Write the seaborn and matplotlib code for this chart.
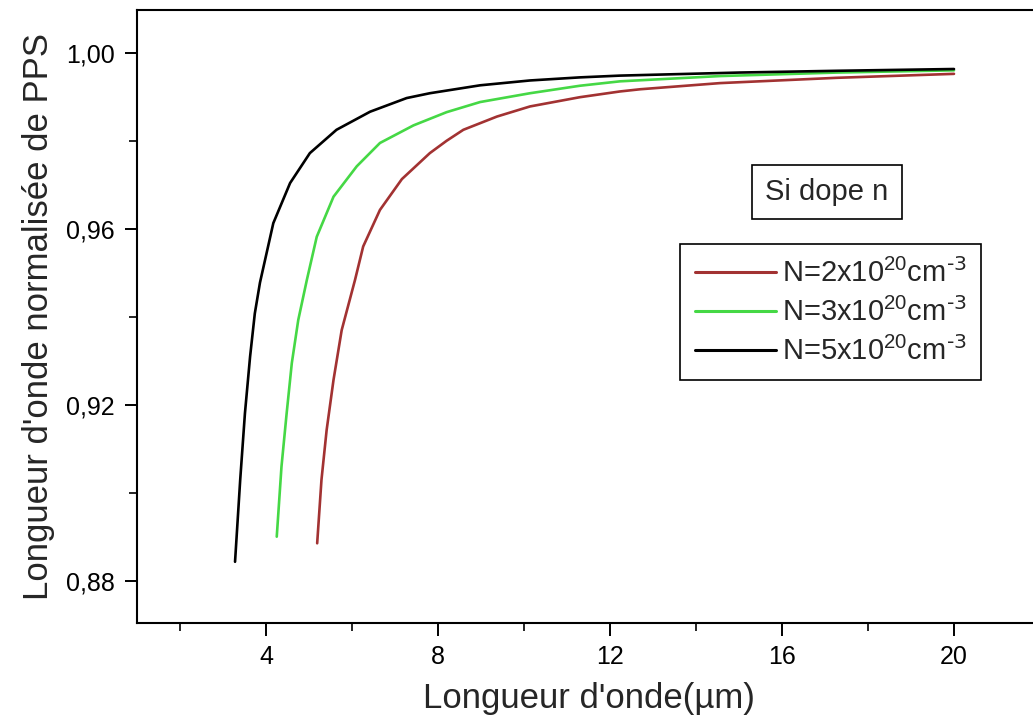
import matplotlib
matplotlib.use("Agg")
import matplotlib.pyplot as plt
from matplotlib.ticker import MultipleLocator, FuncFormatter
import pandas as pd
import seaborn as sns

# values
x_n2 = [5.19, 5.29, 5.41, 5.57, 5.76, 6.07, 6.26, 6.65, 7.16, 7.81, 8.20, 8.59,
        9.37, 10.14, 11.30, 12.23, 12.70, 14.56, 17.27, 20.0]
y_n2 = [0.8886, 0.9030, 0.9143, 0.9257, 0.9370, 0.9484, 0.9560, 0.9643, 0.9713,
        0.9772, 0.9800, 0.9825, 0.9855, 0.9878, 0.9899, 0.9912, 0.9917, 0.9931,
        0.9943, 0.9952]

x_n3 = [4.25, 4.36, 4.48, 4.60, 4.75, 4.95, 5.18, 5.57, 6.11, 6.65, 7.43, 8.20,
        8.98, 10.14, 11.30, 12.23, 14.56, 17.3, 20.0]
y_n3 = [0.8901, 0.9060, 0.9181, 0.9295, 0.9393, 0.9484, 0.9582, 0.9673, 0.9742,
        0.9795, 0.9835, 0.9865, 0.9888, 0.9908, 0.9925, 0.9935, 0.9947, 0.9955,
        0.9960]

x_n5 = [3.28, 3.40, 3.51, 3.63, 3.74, 3.86, 4.17, 4.56, 5.02, 5.64, 6.42, 7.27,
        7.81, 8.98, 10.14, 11.30, 12.23, 15.02, 17.3, 20.0]
y_n5 = [0.8844, 0.9030, 0.9181, 0.9310, 0.9408, 0.9478, 0.9613, 0.9704, 0.9772,
        0.9825, 0.9866, 0.9897, 0.9908, 0.9926, 0.9937, 0.9944, 0.9948, 0.9955,
        0.9959, 0.9963]

labels = [r"N=2x10$^{20}$cm$^{\text{-3}}$", r"N=3x10$^{20}$cm$^{\text{-3}}$",
          r"N=5x10$^{20}$cm$^{\text{-3}}$"]
colors = ["#a23232", "#45d845", "#000000"]

frames = []
for label, xs, ys in zip(labels, [x_n2, x_n3, x_n5], [y_n2, y_n3, y_n5]):
    frames.append(pd.DataFrame({"wl": xs, "norm": ys, "curve": label}))
data = pd.concat(frames, ignore_index=True)

sns.set_theme(style="ticks")
plt.rcParams["font.family"] = ["Liberation Sans", "DejaVu Sans"]
plt.rcParams["mathtext.default"] = "regular"

W, H = 1033, 722
fig = plt.figure(figsize=(W / 100, H / 100), dpi=100)
ax = fig.add_axes([137 / W, 1 - 623 / H, 903 / W, 613 / H])

sns.lineplot(data=data, x="wl", y="norm", hue="curve", palette=colors,
             sort=False, estimator=None, linewidth=1.9, ax=ax)

ax.set_xlim(1, 22)
ax.set_ylim(0.8705, 1.0097)
ax.xaxis.set_major_locator(MultipleLocator(4))
ax.xaxis.set_minor_locator(MultipleLocator(2))
ax.yaxis.set_major_locator(MultipleLocator(0.04))
ax.yaxis.set_minor_locator(MultipleLocator(0.02))
ax.yaxis.set_major_formatter(FuncFormatter(lambda v, p: f"{v:.2f}".replace(".", ",")))
ax.xaxis.set_major_formatter(FuncFormatter(lambda v, p: f"{v:.0f}"))

for side in ["top", "bottom", "left", "right"]:
    ax.spines[side].set_linewidth(1.5)
    ax.spines[side].set_color("black")
ax.tick_params(which="major", direction="out", length=9, width=1.4, labelsize=18,
               colors="black", pad=7)
ax.tick_params(which="minor", direction="out", length=5.5, width=1.4)
ax.tick_params(top=False, right=False, which="both")

ax.set_xlabel("Longueur d'onde(µm)", fontsize=25, labelpad=9)
ax.set_ylabel("Longueur d'onde normalisée de PPS", fontsize=25, labelpad=8)

handles, _ = ax.get_legend_handles_labels()
ax.legend(handles, labels, loc="upper left", bbox_to_anchor=(680 / W, 1 - 244 / H),
          bbox_transform=fig.transFigure, borderaxespad=0, fontsize=21,
          frameon=True, fancybox=False, edgecolor="black", framealpha=1,
          handlelength=2.8, handletextpad=0.2, labelspacing=0.3,
          borderpad=0.5)
leg = ax.get_legend()
leg.get_frame().set_linewidth(1.2)
for line in leg.get_lines():
    line.set_linewidth(2.2)

fig.text(827 / W, 1 - 192 / H, "Si dope n", fontsize=21, ha="center", va="center",
         bbox=dict(boxstyle="square,pad=0.45", fc="white", ec="black", lw=1.2))

fig.savefig("out.png", dpi=100)
